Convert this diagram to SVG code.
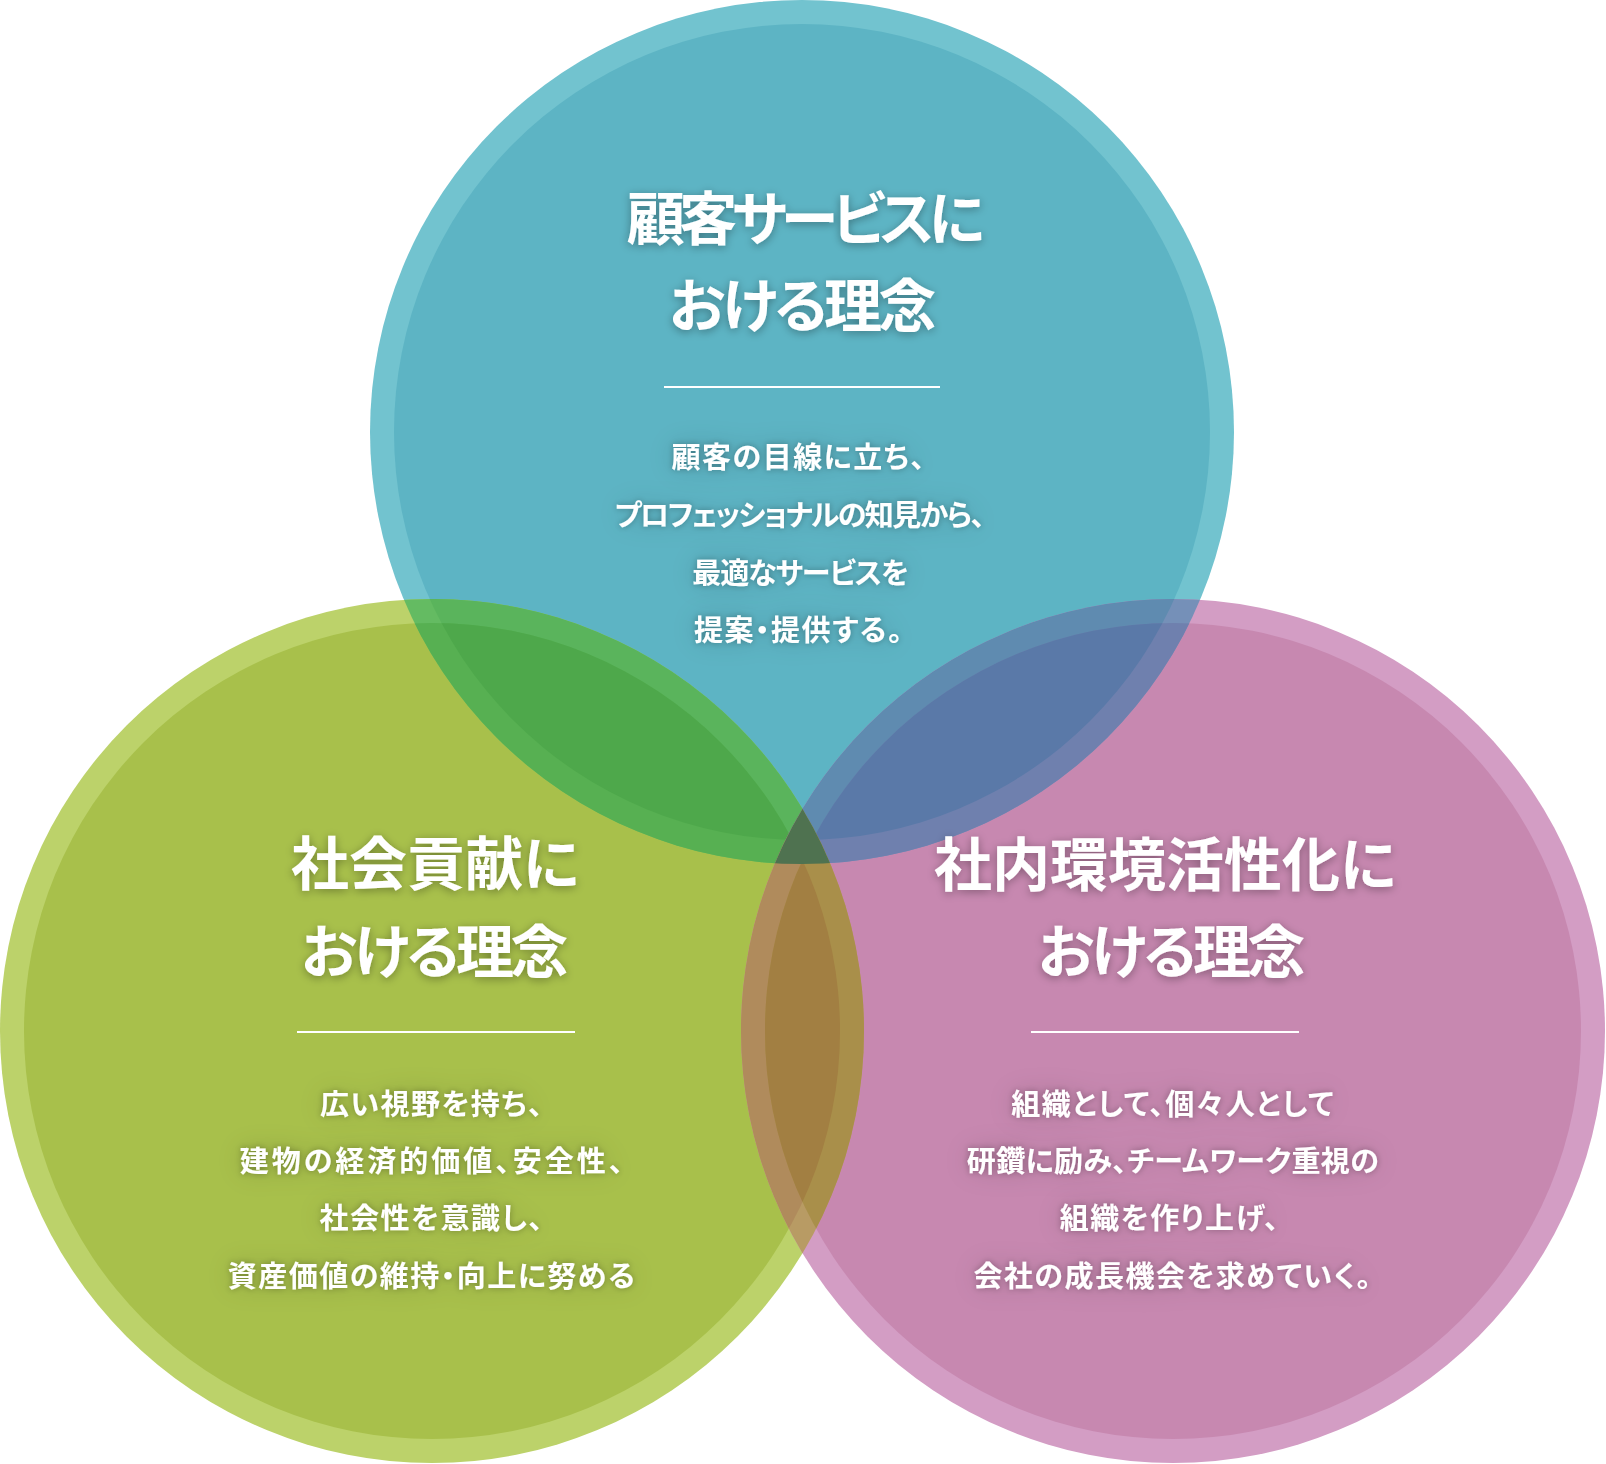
<svg xmlns="http://www.w3.org/2000/svg" width="1606" height="1464" viewBox="0 0 1606 1464">
<style>
.t{font-family:"Noto Sans CJK JP","Noto Sans",sans-serif;font-weight:700;fill:#fff;text-anchor:middle;font-feature-settings:"palt";}
.title{font-size:58px;filter:url(#ts);}
.sub{letter-spacing:-3.5px;}
.body{font-size:29px;letter-spacing:1.5px;filter:url(#bs);}
.div{stroke:#fff;stroke-width:2;}
</style>
<defs>
<clipPath id="tO"><circle cx="802" cy="432" r="432"/></clipPath>
<clipPath id="tI"><circle cx="802" cy="432" r="408"/></clipPath>
<clipPath id="lO"><circle cx="432" cy="1031" r="432"/></clipPath>
<clipPath id="lI"><circle cx="432" cy="1031" r="408"/></clipPath>
<filter id="ts" x="-20%" y="-60%" width="140%" height="220%">
<feGaussianBlur in="SourceAlpha" stdDeviation="5"/>
<feOffset dy="2"/>
<feComponentTransfer><feFuncA type="linear" slope="0.35"/></feComponentTransfer>
<feMerge><feMergeNode/><feMergeNode in="SourceGraphic"/></feMerge>
</filter>
<filter id="bs" x="-20%" y="-150%" width="140%" height="400%">
<feGaussianBlur in="SourceAlpha" stdDeviation="14" result="b1"/>
<feComponentTransfer in="b1" result="c1"><feFuncA type="linear" slope="0.18"/></feComponentTransfer>
<feGaussianBlur in="SourceAlpha" stdDeviation="3" result="b2"/>
<feComponentTransfer in="b2" result="c2"><feFuncA type="linear" slope="0.3"/></feComponentTransfer>
<feMerge><feMergeNode in="c1"/><feMergeNode in="c2"/><feMergeNode in="SourceGraphic"/></feMerge>
</filter>
</defs>

<g id="circles">
<g id="circle-top"><circle cx="802" cy="432" r="432" fill="#72c3cf"/><circle cx="802" cy="432" r="408" fill="#5db4c4"/></g>
<g id="circle-left"><circle cx="432" cy="1031" r="432" fill="#bcd26a"/><circle cx="432" cy="1031" r="408" fill="#a8c04b"/></g>
<g id="circle-right"><circle cx="1173" cy="1031" r="432" fill="#d39dc4"/><circle cx="1173" cy="1031" r="408" fill="#c788b0"/></g>
</g>

<g id="overlaps">
<g clip-path="url(#tO)"><circle cx="432" cy="1031" r="432" fill="#64bb62"/></g>
<g clip-path="url(#tI)"><circle cx="432" cy="1031" r="432" fill="#5ab45c"/></g>
<g clip-path="url(#tO)"><circle cx="432" cy="1031" r="408" fill="#57b052"/></g>
<g clip-path="url(#tI)"><circle cx="432" cy="1031" r="408" fill="#4ea84b"/></g>
<g clip-path="url(#tO)"><circle cx="1173" cy="1031" r="432" fill="#7590b8"/></g>
<g clip-path="url(#tI)"><circle cx="1173" cy="1031" r="432" fill="#5f8bb0"/></g>
<g clip-path="url(#tO)"><circle cx="1173" cy="1031" r="408" fill="#6f80ae"/></g>
<g clip-path="url(#tI)"><circle cx="1173" cy="1031" r="408" fill="#5a79a8"/></g>
<g clip-path="url(#lO)"><circle cx="1173" cy="1031" r="432" fill="#b89b64"/></g>
<g clip-path="url(#lI)"><circle cx="1173" cy="1031" r="432" fill="#b08b5c"/></g>
<g clip-path="url(#lO)"><circle cx="1173" cy="1031" r="408" fill="#a98f4a"/></g>
<g clip-path="url(#lI)"><circle cx="1173" cy="1031" r="408" fill="#a27f42"/></g>
<g clip-path="url(#tO)"><g clip-path="url(#lO)"><circle cx="1173" cy="1031" r="432" fill="#4f7250"/></g></g>
<g clip-path="url(#tI)"><g clip-path="url(#lI)"><circle cx="1173" cy="1031" r="408" fill="#476a42"/></g></g>
</g>

<g id="node-top">
<text class="t title" x="803" y="240" style="letter-spacing:-5.5px">顧客サービスに</text>
<text class="t title sub" x="801" y="327">おける理念</text>
<line class="div" x1="664" y1="387" x2="940" y2="387"/>
<text class="t body" x="799" y="468">顧客の目線に立ち、</text>
<text class="t body" x="799" y="526" style="letter-spacing:-1.6px">プロフェッショナルの知見から、</text>
<text class="t body" x="800" y="584" style="letter-spacing:-1px">最適なサービスを</text>
<text class="t body" x="799" y="641">提案・提供する。</text>
</g>

<g id="node-left">
<text class="t title" x="435" y="885">社会貢献に</text>
<text class="t title sub" x="433" y="973">おける理念</text>
<line class="div" x1="297" y1="1032" x2="575" y2="1032"/>
<text class="t body" x="432" y="1115">広い視野を持ち、</text>
<text class="t body" x="433" y="1172" style="letter-spacing:3px">建物の経済的価値、安全性、</text>
<text class="t body" x="432" y="1229">社会性を意識し、</text>
<text class="t body" x="432" y="1287">資産価値の維持・向上に努める</text>
</g>

<g id="node-right">
<text class="t title" x="1165" y="886">社内環境活性化に</text>
<text class="t title sub" x="1170" y="973">おける理念</text>
<line class="div" x1="1031" y1="1032" x2="1299" y2="1032"/>
<text class="t body" x="1173" y="1115">組織として、個々人として</text>
<text class="t body" x="1173" y="1172" style="letter-spacing:0.4px">研鑽に励み、チームワーク重視の</text>
<text class="t body" x="1170" y="1229">組織を作り上げ、</text>
<text class="t body" x="1173" y="1287">会社の成長機会を求めていく。</text>
</g>

<g id="connectors"></g>
</svg>
